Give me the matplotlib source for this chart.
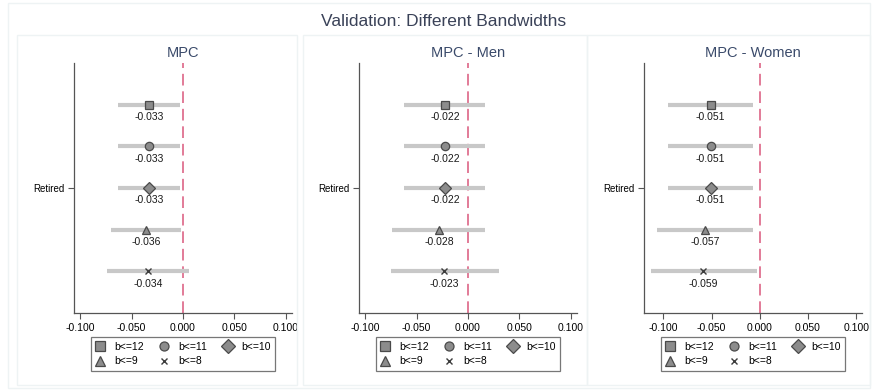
import numpy as np
import matplotlib.pyplot as plt
from matplotlib.patches import Rectangle
from matplotlib.lines import Line2D

plt.rcParams['font.family'] = ['Liberation Sans', 'DejaVu Sans']

# data
bands = ['b<=12', 'b<=11', 'b<=10', 'b<=9', 'b<=8']
markers = ['s', 'o', 'D', '^', 'x']
titles = ['MPC', 'MPC - Men', 'MPC - Women']
ylabel = 'Retired'

mpc_coef = [-0.033, -0.033, -0.033, -0.036, -0.034]
mpc_lo = [-0.063, -0.063, -0.063, -0.070, -0.074]
mpc_hi = [-0.003, -0.003, -0.003, -0.002, 0.006]

men_coef = [-0.022, -0.022, -0.022, -0.028, -0.023]
men_lo = [-0.062, -0.062, -0.062, -0.074, -0.075]
men_hi = [0.017, 0.017, 0.017, 0.017, 0.030]

women_coef = [-0.051, -0.051, -0.051, -0.057, -0.059]
women_lo = [-0.095, -0.095, -0.095, -0.107, -0.113]
women_hi = [-0.007, -0.007, -0.007, -0.007, -0.003]

xticks = [-0.1, -0.05, 0.0, 0.05, 0.1]
xlims = [(-0.106, 0.106), (-0.106, 0.106), (-0.120, 0.106)]

panels = [(mpc_coef, mpc_lo, mpc_hi),
          (men_coef, men_lo, men_hi),
          (women_coef, women_lo, women_hi)]

W, H = 873, 391
fig = plt.figure(figsize=(W / 100, H / 100), dpi=100)

# faint frames like the stata graph regions
fig.patches.append(Rectangle((8 / W, 1 - 388 / H), 862 / W, 385 / H, transform=fig.transFigure,
                             fill=False, ec='#eef3f4', lw=1))
for x0, x1 in [(17, 297), (303, 587), (587, 870)]:
    fig.patches.append(Rectangle((x0 / W, 1 - 385 / H), (x1 - x0) / W, 350 / H,
                                 transform=fig.transFigure, fill=False, ec='#eef3f4', lw=1))

fig.text(444 / W, 1 - 22 / H, 'Validation: Different Bandwidths', ha='center', va='center',
         fontsize=12.5, color='#3a4258')


def make_handle(i):
    if markers[i] == 'x':
        return Line2D([], [], ls='', marker='x', color='#3c3c3c', ms=5, mew=1, label=bands[i])
    return Line2D([], [], ls='', marker=markers[i], mfc='#8c8c8c', mec='#4a4a4a',
                  mew=0.9, ms=7 if markers[i] == 'D' else 6.5, label=bands[i])


ax_left = [74, 359, 644]
rows = np.arange(1, 6)
for k, (coef, lo, hi) in enumerate(panels):
    ax = fig.add_axes([ax_left[k] / W, 1 - 313 / H, 218 / W, 250 / H])
    ax.axvline(0, color='#e27b98', lw=1.4, dashes=(6, 3), zorder=1)
    for i in range(5):
        ax.plot([lo[i], hi[i]], [rows[i], rows[i]], color='#c8c8c8', lw=3, solid_capstyle='butt', zorder=2)
        if markers[i] == 'x':
            ax.plot(coef[i], rows[i], marker='x', color='#3c3c3c', ms=4.5, mew=1, zorder=3)
        else:
            ms = 6.5 if markers[i] == 'D' else 6
            ax.plot(coef[i], rows[i], marker=markers[i], mfc='#8c8c8c', mec='#4a4a4a', mew=0.9,
                    ms=ms, zorder=3)
        ax.text(coef[i], rows[i] + 0.3, f'{coef[i]:.3f}', ha='center', va='center', fontsize=7.5,
                color='#1a1a1a')
    ax.set_xlim(*xlims[k])
    ax.set_ylim(6, 0)
    ax.set_xticks(xticks)
    ax.set_xticklabels([f'{t:.3f}' for t in xticks], fontsize=7.5)
    ax.set_yticks([3])
    ax.set_yticklabels([ylabel], fontsize=7)
    ax.tick_params(length=4, width=0.8, color='#555555', pad=3)
    for s in ['top', 'right']:
        ax.spines[s].set_visible(False)
    for s in ['left', 'bottom']:
        ax.spines[s].set_color('#555555')
        ax.spines[s].set_linewidth(0.9)
    ax.set_title(titles[k], fontsize=10.5, color='#3a4a6a', pad=4)

    # legend filled row by row: 12 11 10 / 9 8
    order = [0, 3, 1, 4, 2]
    handles = [make_handle(i) for i in order]
    leg = ax.legend(handles=handles, ncol=3, loc='upper center', bbox_to_anchor=(0.5, -0.096),
                    borderaxespad=0, fontsize=7.5, frameon=True, fancybox=False, edgecolor='#555555',
                    handlelength=1.0, handletextpad=0.8, columnspacing=1.5,
                    borderpad=0.45, labelspacing=0.45)
    leg.get_frame().set_linewidth(0.9)

fig.savefig('out.png', dpi=100)
